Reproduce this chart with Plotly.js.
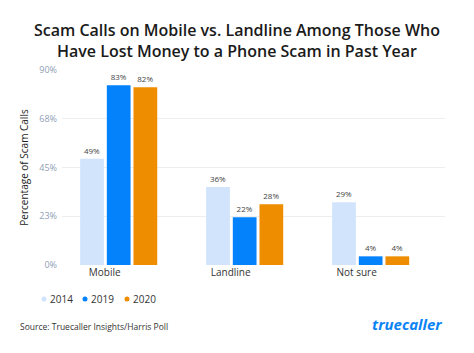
<!DOCTYPE html>
<html>
<head>
<meta charset="utf-8">
<script src="https://cdn.plot.ly/plotly-3.0.1.min.js"></script>
<style>html,body{margin:0;padding:0;background:#fff;}#chart{width:474px;height:353px;}</style>
</head>
<body>
<div id="chart"></div>
<script>
const categories = ["Mobile", "Landline", "Not sure"];
const seriesNames = ["2014", "2019", "2020"];
const values2014 = [49, 36, 29];
const values2019 = [83, 22, 4];
const values2020 = [82, 28, 4];
const tickValues = [0, 22.5, 45, 67.5, 90];
const tickLabels = ["0%", "23%", "45%", "68%", "90%"];
const colors = ["#d1e4fc", "#0382fb", "#ef8d00"];

const allValues = [values2014, values2019, values2020];
const traces = allValues.map((vals, i) => ({
  type: "bar",
  x: categories,
  y: vals,
  name: seriesNames[i],
  marker: {color: colors[i]},
  text: vals.map(v => v + "%"),
  textposition: "outside",
  cliponaxis: false,
  textfont: {family: "Open Sans, sans-serif", size: 8, color: "#444"},
  showlegend: false,
  hoverinfo: "none"
}));

// legend: dot centre offsets (px) from plot left edge
const legendDotX = [-18, 23, 65];
const legendAnnotations = seriesNames.map((n, i) => ({
  text: n,
  xref: "paper", yref: "paper",
  x: 0, xshift: legendDotX[i] + 4, y: 0, yshift: -34,
  xanchor: "left", yanchor: "middle", showarrow: false,
  font: {family: "Open Sans, sans-serif", size: 10, color: "#333"}
}));
const legendShapes = seriesNames.map((n, i) => ({
  type: "circle", xref: "paper", yref: "paper",
  xsizemode: "pixel", ysizemode: "pixel", xanchor: 0, yanchor: 0,
  x0: legendDotX[i] - 2.5, x1: legendDotX[i] + 2.5, y0: -36.5, y1: -31.5,
  fillcolor: colors[i], line: {width: 0}
}));

const layout = {
  width: 474, height: 353,
  margin: {l: 62, r: 29, t: 70, b: 88},
  paper_bgcolor: "#fff", plot_bgcolor: "#fff",
  title: {
    text: "Scam Calls on Mobile vs. Landline Among Those Who<br>Have Lost Money to a Phone Scam in Past Year",
    font: {family: "Open Sans, sans-serif", size: 16, color: "#1a1a1a", weight: 600},
    x: 0.5, xanchor: "center", y: 0.897, yanchor: "top"
  },
  showlegend: false,
  barmode: "group",
  bargap: 0.365,
  bargroupgap: 0.11,
  xaxis: {
    type: "category",
    range: [-0.45, 2.59],
    showgrid: false, zeroline: false, showline: false,
    ticks: "", ticklabelshift: -14,
    tickfont: {family: "Open Sans, sans-serif", size: 10, color: "#333"},
    fixedrange: true
  },
  yaxis: {
    range: [0, 90],
    tickvals: tickValues, ticktext: tickLabels,
    showgrid: true, gridcolor: "#eeeeee", gridwidth: 1,
    zeroline: false, showline: false, ticks: "",
    tickfont: {family: "Open Sans, sans-serif", size: 9, color: "#90a0b4"},
    ticklabelstandoff: 4,
    title: {text: "Percentage of Scam Calls", font: {family: "Open Sans, sans-serif", size: 10, color: "#222"}, standoff: 8},
    fixedrange: true
  },
  shapes: legendShapes,
  annotations: legendAnnotations.concat([
    {text: "Source: Truecaller Insights/Harris Poll", xref: "paper", yref: "paper",
     x: 0, xshift: -44, y: 0, yshift: -61, xanchor: "left", yanchor: "middle", showarrow: false,
     font: {family: "Open Sans, sans-serif", size: 8.5, color: "#333"}},
    {text: "<b><i>truecaller</i></b>", xref: "paper", yref: "paper",
     x: 1, xshift: -1, y: 0, yshift: -59, xanchor: "right", yanchor: "middle", showarrow: false,
     font: {family: "Open Sans, sans-serif", size: 15, color: "#0a84f5"}}
  ])
};

Plotly.newPlot("chart", traces, layout, {displayModeBar: false, staticPlot: true});
</script>
</body>
</html>
